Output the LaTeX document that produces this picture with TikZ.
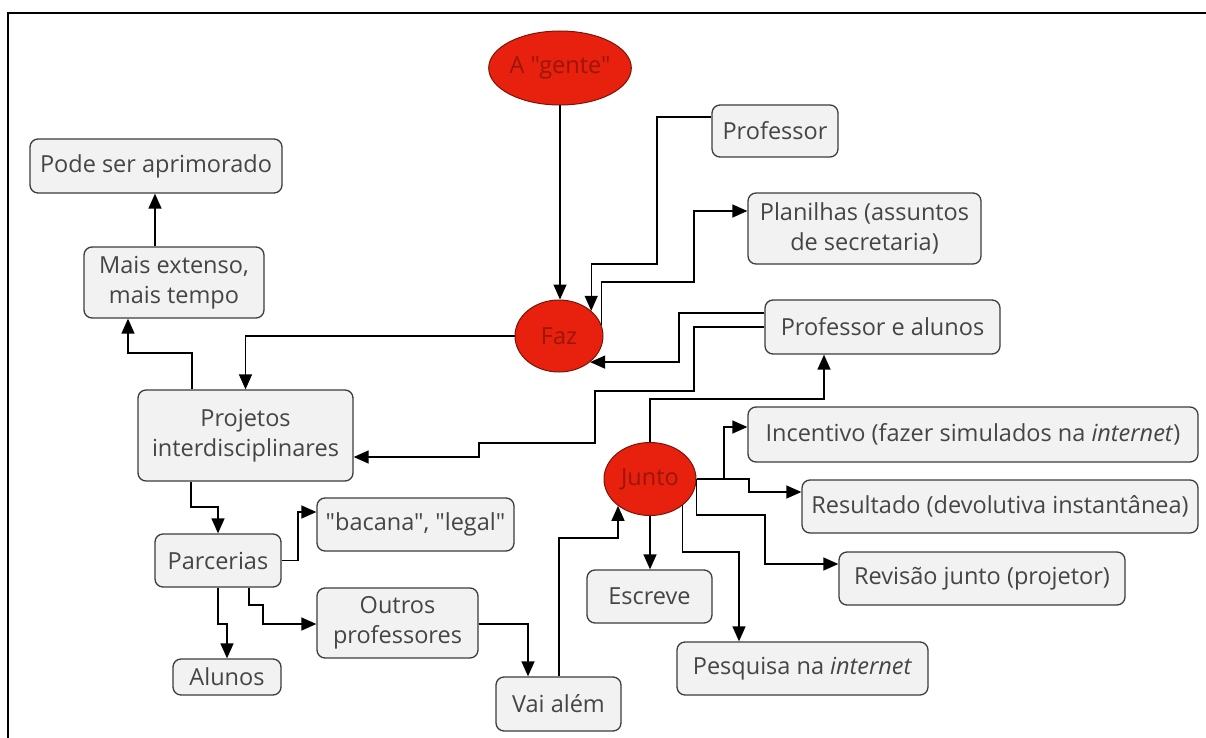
\documentclass[tikz,border=0pt]{standalone}
\usepackage{fontspec}
\newfontfamily\osans{Open Sans}
\usetikzlibrary{arrows.meta,shapes.geometric}
\definecolor{boxfill}{HTML}{F2F2F2}
\definecolor{boxline}{HTML}{3C3C3C}
\definecolor{txt}{HTML}{454545}
\definecolor{redfill}{HTML}{E8200E}
\definecolor{redline}{HTML}{7A1408}
\definecolor{redtxt}{HTML}{9A160A}
\begin{document}
\begin{tikzpicture}[x=1pt,y=-1pt,
 box/.style={draw=boxline,fill=boxfill,rounded corners=8pt,line width=1.3pt,text=txt,align=center,inner sep=0pt,font=\osans\fontsize{23.5}{30}\selectfont},
 oval/.style={ellipse,draw=redline,fill=redfill,line width=1pt,text=redtxt,inner sep=0pt,font=\osans\fontsize{23.5}{30}\selectfont},
 arr/.style={draw=black,line width=1.4pt,-{Triangle[length=15pt,width=13pt]}},
 frame/.style={draw=black,line width=2.2pt}
]
\useasboundingbox (0,0) rectangle (1206,738);
\draw[frame] (7,13) -- (1206,13);
\draw[frame] (8,13) -- (8,738);

% ovals
\node[oval,minimum width=125pt,minimum height=74pt] (gente) at (560,68) {A "gente"};
\node[oval,minimum width=88pt,minimum height=72pt] (faz) at (559,336) {Faz};
\node[oval,minimum width=92pt,minimum height=73pt] (junto) at (650,479) {Junto};

% boxes
\node[box,minimum width=252pt,minimum height=54pt] (pode) at (156,166) {Pode ser aprimorado};
\node[box,minimum width=180pt,minimum height=71pt] (mais) at (174,282.5) {Mais extenso,\\mais tempo};
\node[box,minimum width=215pt,minimum height=91pt] (proj) at (245.5,435.5) {Projetos\\interdisciplinares};
\node[box,minimum width=126pt,minimum height=53pt] (parc) at (218,560.5) {Parcerias};
\node[box,minimum width=197pt,minimum height=53pt] (bac) at (415.5,524.5) {"bacana", "legal"};
\node[box,minimum width=108pt,minimum height=36pt] (alunos) at (227,677) {Alunos};
\node[box,minimum width=161pt,minimum height=70pt] (outros) at (397.5,623) {Outros\\professores};
\node[box,minimum width=125pt,minimum height=54pt] (vai) at (558.5,704) {Vai além};
\node[box,minimum width=125pt,minimum height=53pt] (escreve) at (649.5,596.5) {Escreve};
\node[box,minimum width=251pt,minimum height=53pt] (pesq) at (802.5,668.5) {Pesquisa na \textit{internet}};
\node[box,minimum width=286pt,minimum height=53pt] (revisao) at (982,578.5) {Revisão junto (projetor)};
\node[box,minimum width=396pt,minimum height=53pt] (result) at (1000,506.5) {Resultado (devolutiva instantânea)};
\node[box,minimum width=450pt,minimum height=55pt] (incent) at (973,434.5) {Incentivo (fazer simulados na \textit{internet})};
\node[box,minimum width=235pt,minimum height=54pt] (profal) at (882.5,327) {Professor e alunos};
\node[box,minimum width=233pt,minimum height=71pt] (plan) at (864.5,228.5) {Planilhas (assuntos\\de secretaria)};
\node[box,minimum width=126pt,minimum height=52pt] (prof) at (775,131) {Professor};

% connectors
\draw[arr] (gente.south) -- (gente.south |- faz.north);
\draw[arr] (prof.west |- 0,117) -| (657,264) -| (faz.38);
\draw[arr] (faz.15) |- (694,282) |- (plan.west |- 0,211);
\draw[arr] (profal.west |- 0,313) -- (679,313) |- (faz.-40);
\draw[arr] (profal.west) -- (694,327) |- (595,391) |- (479,443) |- (proj.east |- 0,457);
\draw[arr] (junto.north) |- (700,399) -| (profal.south -| 824,0);
\draw[arr] (faz.west) -| (proj.north);
\draw[arr] (proj.north -| 192,0) |- (150,353) -| (mais.south -| 128,0);
\draw[arr] (mais.north -| 155,0) -- (pode.south -| 155,0);
\draw[arr] (proj.south -| 191,0) |- (200,507) -| (parc.north);
\draw[arr] (parc.east) -| (298,530) |- (bac.west |- 0,512);
\draw[arr] (parc.south) |- (222,624) -| (alunos.north);
\draw[arr] (parc.south -| 249,0) |- (263,605) |- (outros.west |- 0,624);
\draw[arr] (outros.east |- 0,624) -| (vai.north -| 528,0);
\draw[arr] (vai.north -| 559,0) |- (600,538) -| (junto.220);
\draw[arr] (junto.east) -| (724,440) |- (incent.west |- 0,427);
\draw[arr] (junto.east) -| (749,485) |- (result.west |- 0,492);
\draw[arr] (junto.east) |- (765,515) |- (revisao.west |- 0,564);
\draw[arr] (junto.south) -- (junto.south |- escreve.north);
\draw[arr] (junto.-39) |- (700,552) -| (pesq.north -| 739,0);
\end{tikzpicture}
\end{document}
